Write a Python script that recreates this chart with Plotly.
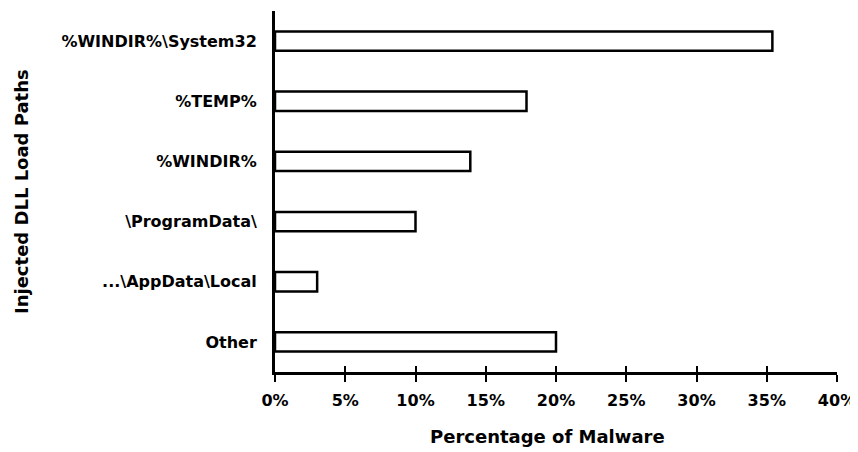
import plotly.graph_objects as go

categories = ["%WINDIR%\\System32", "%TEMP%", "%WINDIR%", "\\ProgramData\\", "...\\AppData\\Local", "Other"]
values = [35.4, 17.9, 13.9, 10.0, 3.0, 20.0]
tick_vals = [0, 5, 10, 15, 20, 25, 30, 35, 40]
tick_text = ["0%", "5%", "10%", "15%", "20%", "25%", "30%", "35%", "40%"]

font_family = "DejaVu Sans, Liberation Sans, Arial, sans-serif"

fig = go.Figure()
fig.add_trace(go.Bar(
    x=values, y=categories, orientation="h",
    marker=dict(color="white", line=dict(color="black", width=2.5)),
    width=0.32, showlegend=False, hoverinfo="x+y",
))
# invisible trace to activate overlay axis for crossing ticks
fig.add_trace(go.Scatter(x=[0], y=[categories[0]], xaxis="x2", mode="markers",
                         marker=dict(opacity=0), showlegend=False, hoverinfo="skip"))

fig.update_layout(
    width=850, height=444,
    margin=dict(l=267, r=21, t=3, b=80),
    paper_bgcolor="white", plot_bgcolor="white",
    font=dict(family=font_family, size=16, color="black"),
    xaxis=dict(
        range=[0, 40], tickvals=tick_vals, ticktext=tick_text,
        showline=True, linecolor="black", linewidth=3,
        ticks="outside", ticklen=7, tickwidth=2, tickcolor="black",
        showgrid=False, zeroline=False, automargin=False,
        ticklabelstandoff=5,
        tickfont=dict(family=font_family, size=16, color="black", weight="bold"),
    ),
    xaxis2=dict(
        range=[0, 40], tickvals=tick_vals, overlaying="x", anchor="y", side="bottom",
        ticks="inside", ticklen=6, tickwidth=2, tickcolor="black",
        showticklabels=False, showgrid=False, zeroline=False, showline=False,
        automargin=False,
    ),
    yaxis=dict(
        type="category", categoryorder="array", categoryarray=categories,
        range=[5.5, -0.5], automargin=False,
        showline=True, linecolor="black", linewidth=3,
        ticks="", showgrid=False, zeroline=False,
        ticklabelstandoff=12,
        tickfont=dict(family=font_family, size=16, color="black", weight="bold"),
    ),
    annotations=[
        dict(text="<b>Percentage of Malware</b>", xref="paper", yref="paper",
             x=0.484, y=-0.18, xanchor="center", yanchor="middle", showarrow=False,
             font=dict(family=font_family, size=18, color="black")),
        dict(text="<b>Injected DLL Load Paths</b>", xref="paper", yref="paper",
             x=-0.451, y=0.5, xanchor="center", yanchor="middle", showarrow=False,
             textangle=-90, font=dict(family=font_family, size=18, color="black")),
    ],
)

fig.write_html("out.html")
